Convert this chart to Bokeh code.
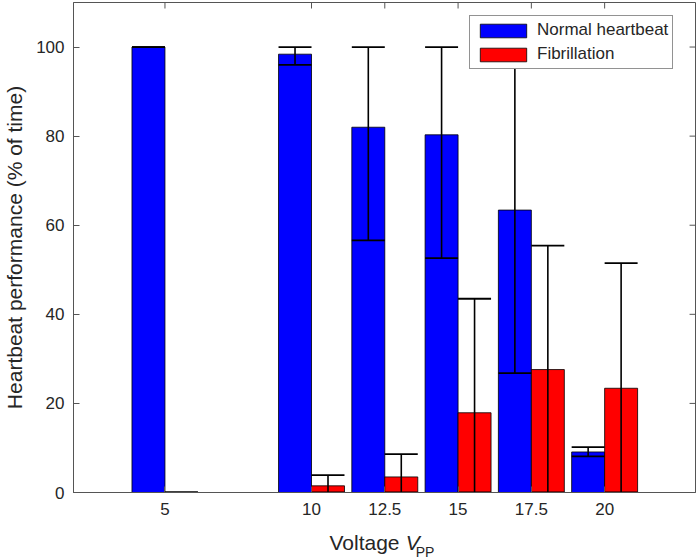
from bokeh.plotting import figure
from bokeh.models import (Range1d, FixedTicker, LinearAxis, Legend,
                          LegendItem, ColumnDataSource)
from bokeh.layouts import column
from bokeh.core.properties import value
from bokeh.embed import file_html
from bokeh.resources import INLINE

# ---- data ----
voltages = [5, 10, 12.5, 15, 17.5, 20]
x_tick_labels = ["5", "10", "12.5", "15", "17.5", "20"]
y_ticks = [0, 20, 40, 60, 80, 100]

normal_mean = [100, 98.4, 82.0, 80.3, 63.4, 9.1]
normal_low = [100, 96.0, 56.6, 52.6, 26.8, 8.1]
normal_high = [100, 100, 100, 100, 100, 10.2]

fib_mean = [0, 1.5, 3.5, 17.9, 27.6, 23.4]
fib_low = [0, 0, 0, 0, 0, 0]
fib_high = [0, 3.9, 8.6, 43.5, 55.4, 51.5]

# ---- style ----
FONT = "Liberation Sans"
AX_C = "#555555"
TXT_C = "#262626"
BAR_W = 1.125
OFF = BAR_W / 2
X_MIN, X_MAX = 1.88, 23.1
Y_MIN, Y_MAX = 0, 110

W, H_MAIN, H_LAB = 700, 525, 35
B_LEFT, B_RIGHT, B_TOP, B_BOTTOM = 68, 5, 2, 33
FRAME_W = W - B_LEFT - B_RIGHT
FRAME_H = H_MAIN - B_TOP - B_BOTTOM
TICK_PX = 6

p = figure(width=W, height=H_MAIN, output_backend="svg", toolbar_location=None,
           x_range=Range1d(X_MIN, X_MAX), y_range=Range1d(Y_MIN, Y_MAX),
           x_axis_location=None, y_axis_location=None,
           min_border_left=B_LEFT, min_border_right=B_RIGHT,
           min_border_top=B_TOP, min_border_bottom=B_BOTTOM)
p.xgrid.visible = False
p.ygrid.visible = False
p.outline_line_color = AX_C
p.background_fill_color = "white"


def style_axis(ax):
    ax.axis_line_color = AX_C
    ax.major_tick_line_color = AX_C
    ax.major_tick_in = TICK_PX
    ax.major_tick_out = 0
    ax.minor_tick_line_color = None
    ax.major_label_text_font = FONT
    ax.major_label_text_font_size = "17px"
    ax.major_label_text_color = TXT_C


xb = LinearAxis(ticker=FixedTicker(ticks=voltages),
                major_label_overrides={v: s for v, s in zip(voltages, x_tick_labels)})
style_axis(xb)
xb.major_label_standoff = 10
p.add_layout(xb, "below")

yl = LinearAxis(ticker=FixedTicker(ticks=y_ticks),
                major_label_overrides={v: str(v) for v in y_ticks},
                axis_label="Heartbeat performance (% of time)")
style_axis(yl)
yl.major_label_standoff = 9
yl.axis_label_standoff = 7
yl.axis_label_text_font = FONT
yl.axis_label_text_font_size = "21px"
yl.axis_label_text_font_style = "normal"
yl.axis_label_text_color = TXT_C
p.add_layout(yl, "left")

# mirrored ticks on top and right edges of the box
ty = (Y_MAX - Y_MIN) * TICK_PX / FRAME_H
tx = (X_MAX - X_MIN) * TICK_PX / FRAME_W
p.segment(x0=voltages, y0=[Y_MAX] * len(voltages), x1=voltages,
          y1=[Y_MAX - ty] * len(voltages), line_color=AX_C, line_width=1)
p.segment(x0=[X_MAX] * len(y_ticks), y0=y_ticks, x1=[X_MAX - tx] * len(y_ticks),
          y1=y_ticks, line_color=AX_C, line_width=1)

# ---- bars ----
xn = [v - OFF for v in voltages]
xf = [v + OFF for v in voltages]
src_n = ColumnDataSource(dict(x=xn, top=normal_mean, lo=normal_low, hi=normal_high,
                              x0=[x - OFF for x in xn], x1=[x + OFF for x in xn]))
src_f = ColumnDataSource(dict(x=xf, top=fib_mean, lo=fib_low, hi=fib_high,
                              x0=[x - OFF for x in xf], x1=[x + OFF for x in xf]))

r_n = p.vbar(x="x", top="top", bottom=0, width=BAR_W, source=src_n,
             fill_color="#0000FF", line_color="black", line_width=0.8)
r_f = p.vbar(x="x", top="top", bottom=0, width=BAR_W, source=src_f,
             fill_color="#FF0000", line_color="black", line_width=0.8)

# ---- error bars ----
for src in (src_n, src_f):
    p.segment(x0="x", y0="lo", x1="x", y1="hi", source=src,
              line_color="black", line_width=1.6)
    p.segment(x0="x0", y0="hi", x1="x1", y1="hi", source=src,
              line_color="black", line_width=1.8)
    p.segment(x0="x0", y0="lo", x1="x1", y1="lo", source=src,
              line_color="black", line_width=1.8)

# ---- legend ----
legend = Legend(items=[LegendItem(label="Normal heartbeat", renderers=[r_n]),
                       LegendItem(label="Fibrillation", renderers=[r_f])],
                location=(396, 423), padding=4, spacing=4, margin=0,
                glyph_width=58, glyph_height=17, label_standoff=5,
                label_width=128, label_height=20,
                label_text_font=FONT, label_text_font_size="17px",
                label_text_color=TXT_C,
                border_line_color="#262626", border_line_width=1,
                background_fill_color="white", background_fill_alpha=1)
p.add_layout(legend)

# ---- x axis title strip: "Voltage V_PP" (frame aligned with main plot) ----
q = figure(width=W, height=H_LAB, output_backend="svg", toolbar_location=None,
           x_range=Range1d(B_LEFT, W - B_RIGHT), y_range=Range1d(0, H_LAB),
           x_axis_location=None, y_axis_location=None,
           min_border_left=B_LEFT, min_border_right=B_RIGHT,
           min_border_top=0, min_border_bottom=0)
q.xgrid.visible = False
q.ygrid.visible = False
q.outline_line_color = None
q.text(x=[326], y=[18], text=["Voltage"], text_align="left",
       text_baseline="alphabetic", text_font=value(FONT), text_font_size="21px",
       text_color=TXT_C)
q.text(x=[403], y=[18], text=["V"], text_align="left",
       text_baseline="alphabetic", text_font=value(FONT), text_font_size="21px",
       text_font_style="italic", text_color=TXT_C)
q.text(x=[413], y=[9], text=["PP"], text_align="left",
       text_baseline="alphabetic", text_font=value(FONT), text_font_size="14px",
       text_color=TXT_C)

layout = column(p, q, spacing=0)
open("out.html", "w").write(file_html(layout, INLINE))
